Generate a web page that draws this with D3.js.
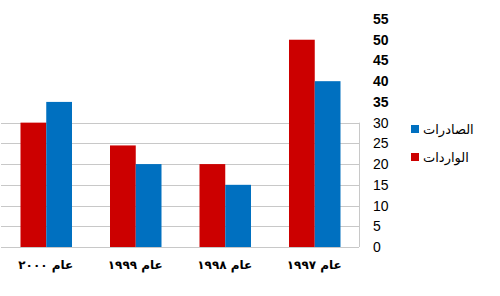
<!DOCTYPE html>
<html>
<head>
<meta charset="utf-8">
<script src="https://cdn.jsdelivr.net/npm/d3@7"></script>
<style>
  body { margin: 0; background: #fff; }
  svg { display: block; }
</style>
</head>
<body>
<div id="chart"></div>
<script>
// chart data
const years = ["عام ١٩٩٧", "عام ١٩٩٨", "عام ١٩٩٩", "عام ٢٠٠٠"];
const imports = [50, 20, 24.5, 30];   // الواردات
const exports = [40, 15, 20, 35];     // الصادرات
const seriesNames = ["الواردات", "الصادرات"];
const yTicks = [0, 5, 10, 15, 20, 25, 30, 35, 40, 45, 50, 55];

const WIDTH = 500;
const HEIGHT = 296;
const COLORS = { "الواردات": "#cc0000", "الصادرات": "#0070c0" };

let svg = d3.select("#chart").append("svg")
  .attr("width", WIDTH)
  .attr("height", HEIGHT);

// categories run right to left
let x = d3.scaleBand()
  .domain(years)
  .range([359, 1])
  .paddingInner(0)
  .paddingOuter(0);

let xInner = d3.scaleBand()
  .domain(seriesNames)
  .range([19.5, x.bandwidth() - 18.5]);

let y = d3.scaleLinear()
  .domain([0, 55])
  .range([247, 19]);

// faint grid lines in the lower part
let grid = svg.append("g");
grid.selectAll("line")
  .data(yTicks.filter(d => d <= 30))
  .join("line")
  .attr("x1", 1)
  .attr("x2", 359)
  .attr("y1", d => Math.round(y(d)) + 0.5)
  .attr("y2", d => Math.round(y(d)) + 0.5)
  .attr("stroke", "#c8c8c8")
  .attr("stroke-width", 1);

grid.append("line")
  .attr("x1", 359.5).attr("x2", 359.5)
  .attr("y1", y(30)).attr("y2", y(0))
  .attr("stroke", "#c8c8c8");

// bars
let rows = years.map((yr, i) => ({
  year: yr,
  values: [
    { name: seriesNames[0], value: imports[i] },
    { name: seriesNames[1], value: exports[i] }
  ]
}));

let groups = svg.append("g").selectAll("g")
  .data(rows)
  .join("g")
  .attr("transform", d => `translate(${x(d.year)},0)`);

groups.selectAll("rect")
  .data(d => d.values)
  .join("rect")
  .attr("x", d => xInner(d.name))
  .attr("width", xInner.bandwidth())
  .attr("y", d => y(d.value))
  .attr("height", d => y(0) - y(d.value))
  .attr("fill", d => COLORS[d.name]);

// y axis on the right, no line
let yAxis = d3.axisRight(y)
  .tickValues(yTicks)
  .tickSize(0)
  .tickPadding(0);

let yAxisG = svg.append("g")
  .attr("transform", "translate(373,0)")
  .call(yAxis);
yAxisG.select(".domain").remove();
yAxisG.selectAll("text")
  .attr("font-family", "Arial, 'Liberation Sans', sans-serif")
  .attr("font-size", 14)
  .attr("fill", "#000")
  .attr("font-weight", d => d >= 35 ? "bold" : "normal");

// x axis labels
let xAxis = d3.axisBottom(x).tickSize(0).tickPadding(0);
let xAxisG = svg.append("g")
  .attr("transform", "translate(0,260)")
  .call(xAxis);
xAxisG.select(".domain").remove();
xAxisG.selectAll("text")
  .attr("font-family", "'DejaVu Sans', sans-serif")
  .attr("font-size", 12)
  .attr("font-weight", "bold")
  .attr("letter-spacing", 2)
  .attr("fill", "#000")
  .attr("direction", "rtl");

// legend
let legend = svg.append("g").attr("transform", "translate(411,0)");
let legendItems = [
  { name: "الصادرات", y: 129 },
  { name: "الواردات", y: 157 }
];
legend.selectAll("rect")
  .data(legendItems)
  .join("rect")
  .attr("x", 0)
  .attr("y", d => d.y - 4)
  .attr("width", 8)
  .attr("height", 8)
  .attr("fill", d => COLORS[d.name]);
legend.selectAll("text")
  .data(legendItems)
  .join("text")
  .attr("x", 12)
  .attr("y", d => d.y)
  .attr("dy", "0.35em")
  .attr("font-family", "'DejaVu Sans', sans-serif")
  .attr("font-size", 13)
  .attr("fill", "#000")
  .text(d => d.name);
</script>
</body>
</html>
